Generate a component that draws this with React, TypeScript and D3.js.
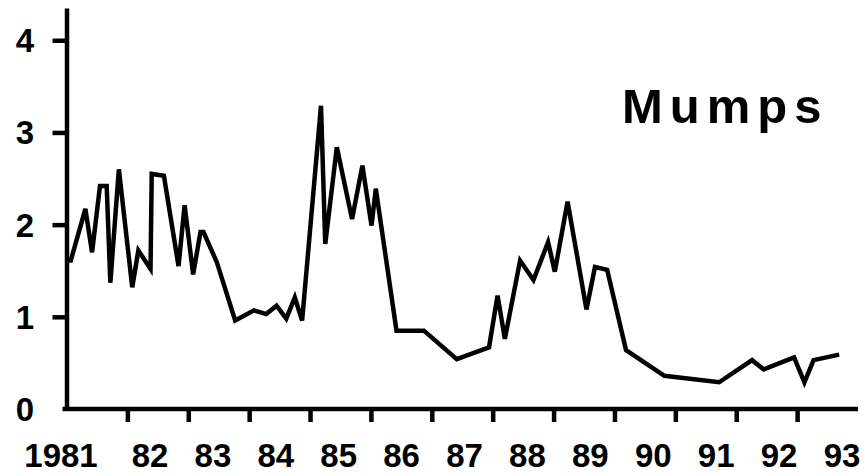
import { useEffect, useRef } from 'react'
import * as d3 from 'd3'

// Mumps series (decimal year, rate)
const years = [
  1981.0, 1981.07, 1981.31, 1981.42, 1981.55, 1981.66, 1981.72, 1981.86,
  1982.08, 1982.18, 1982.38, 1982.4, 1982.6, 1982.84, 1982.94,
  1983.08, 1983.2, 1983.25, 1983.47, 1983.77,
  1984.08, 1984.28, 1984.45, 1984.61, 1984.75, 1984.87,
  1985.18, 1985.25, 1985.44, 1985.69, 1985.86,
  1986.01, 1986.08, 1986.42, 1986.87,
  1987.41, 1987.94,
  1988.08, 1988.2, 1988.45, 1988.67, 1988.91,
  1989.02, 1989.23, 1989.54, 1989.68, 1989.88,
  1990.19, 1990.82, 1991.72,
  1992.26, 1992.45, 1992.95,
  1993.12, 1993.27, 1993.69,
]
const rates = [
  1.61, 1.61, 2.17, 1.7, 2.42, 2.42, 1.37, 2.6,
  1.32, 1.72, 1.52, 2.55, 2.53, 1.55, 2.21,
  1.46, 1.92, 1.92, 1.59, 0.96,
  1.07, 1.03, 1.12, 0.98, 1.21, 0.96,
  3.29, 1.79, 2.84, 2.06, 2.64,
  1.99, 2.39, 0.85, 0.85,
  0.54, 0.67,
  1.23, 0.76, 1.61, 1.4, 1.81,
  1.49, 2.25, 1.08, 1.54, 1.51,
  0.64, 0.36, 0.29,
  0.53, 0.43, 0.56,
  0.29, 0.53, 0.59,
]
const yTicks = [0, 1, 2, 3, 4]
const yearTicks = [1982, 1983, 1984, 1985, 1986, 1987, 1988, 1989, 1990, 1991, 1992, 1993]
const yearLabels = ['82', '83', '84', '85', '86', '87', '88', '89', '90', '91', '92', '93']
const firstLabel = '1981'
const title = 'Mumps'

export default function App() {
  const svgRef = useRef<SVGSVGElement>(null)

  useEffect(() => {
    if (!svgRef.current) return
    const svg = d3.select(svgRef.current)
    svg.selectAll('*').remove()

    const width = 866
    const height = 475
    const font = "'Liberation Sans', Arial, Helvetica, sans-serif"

    const x = d3.scaleLinear().domain([1981, 1994]).range([66.5, 858])
    const y = d3.scaleLinear().domain([0, 4.35]).range([409, 8])
    // year labels are evenly typed, not exactly under the tick gaps
    const xLabel = d3.scaleLinear().domain([1982, 1993]).range([150, 842])

    svg.attr('width', width).attr('height', height)

    // y axis
    const yAxis = svg
      .append('g')
      .attr('transform', `translate(${x(1981)},0)`)
      .call(d3.axisLeft(y).tickValues(yTicks.slice(1)).tickSize(14).tickSizeOuter(0).tickFormat(() => ''))
    yAxis.select('.domain').attr('stroke', '#000').attr('stroke-width', 4.5)
    yAxis.selectAll('.tick line').attr('stroke', '#000').attr('stroke-width', 4.5)

    svg
      .append('g')
      .selectAll('text')
      .data(yTicks)
      .enter()
      .append('text')
      .attr('x', 34)
      .attr('y', d => y(d))
      .attr('dy', '0.36em')
      .attr('text-anchor', 'end')
      .attr('font-family', font)
      .attr('font-weight', 700)
      .attr('font-size', 33)
      .text(d => d)

    // x axis
    const xAxis = svg
      .append('g')
      .attr('transform', `translate(0,${y(0)})`)
      .call(d3.axisBottom(x).tickValues(yearTicks).tickSize(13).tickSizeOuter(0).tickFormat(() => ''))
    xAxis.select('.domain').attr('stroke', '#000').attr('stroke-width', 4.5).attr('d', `M${x(1981) - 4},0H${x(1994)}`)
    xAxis.selectAll('.tick line').attr('stroke', '#000').attr('stroke-width', 4.5)

    const labels = svg.append('g').attr('font-family', font).attr('font-weight', 700).attr('font-size', 33).attr('text-anchor', 'middle')
    labels.append('text').attr('x', 61).attr('y', 467).text(firstLabel)
    labels
      .selectAll('text.yr')
      .data(yearTicks)
      .enter()
      .append('text')
      .attr('class', 'yr')
      .attr('x', d => xLabel(d))
      .attr('y', 467)
      .text((d, i) => yearLabels[i])

    // series line
    const line = d3
      .line<number>()
      .x((d, i) => x(years[i]))
      .y(d => y(d))

    svg
      .append('path')
      .datum(rates)
      .attr('d', line)
      .attr('fill', 'none')
      .attr('stroke', '#000')
      .attr('stroke-width', 4.5)
      .attr('stroke-linejoin', 'miter')

    // title
    svg
      .append('text')
      .attr('x', 622)
      .attr('y', 123)
      .attr('font-family', font)
      .attr('font-weight', 700)
      .attr('font-size', 49)
      .attr('letter-spacing', 7)
      .text(title)
  }, [])

  return (
    <div style={{ position: 'absolute', left: 0, top: 0, background: '#fff' }}>
      <svg ref={svgRef}></svg>
    </div>
  )
}
